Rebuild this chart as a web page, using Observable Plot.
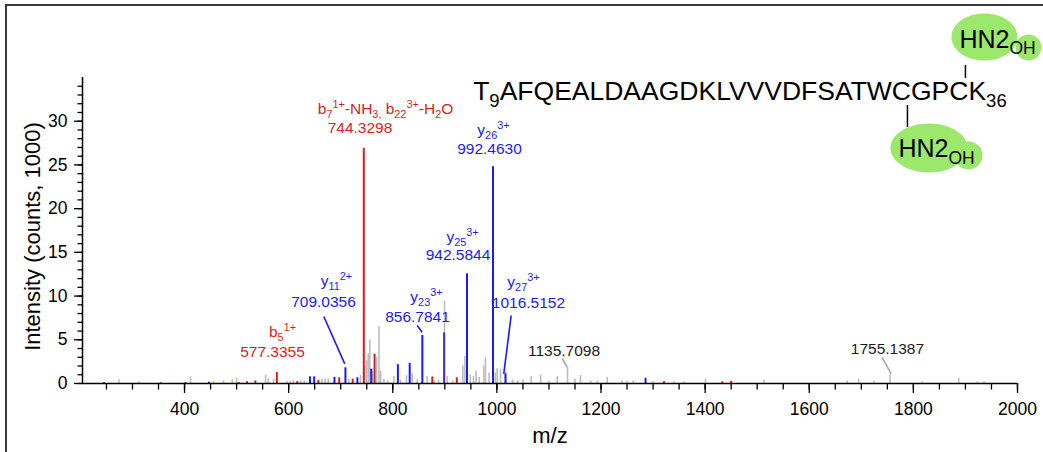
<!DOCTYPE html>
<html><head><meta charset="utf-8">
<script src="https://cdn.jsdelivr.net/npm/d3@7"></script>
<script src="https://cdn.jsdelivr.net/npm/@observablehq/plot@0.6"></script>
<style>
html,body{margin:0;padding:0;background:#fff;overflow:hidden}
#wrap{position:relative;width:1043px;height:452px;overflow:hidden}
#frame{position:absolute;left:5px;top:4px;width:1100px;height:500px;border:2px solid #3a3a3a;pointer-events:none}
</style></head><body><div id="wrap"><div id="chart"></div><div id="frame"></div></div>
<script>
// ---- peak data (m/z, intensity in counts x1000) ----
const grayMz  = [274,312,411.5,456,475,491.6,500,555.6,561,571,597,603,609,623,630,664,670,676,715.6,738,746,749.6,752.8,756,761,768.8,773.4,776.6,783,790,802,815,826.4,837.4,847,866,880,888,899.4,904.6,915,934.6,938.5,949,955,960,966,975,978,985,997,1000.6,1007,1016.6,1030,1040,1050,1066,1084,1100,1116,1135.7,1150,1160.6,1180,1193,1212,1240,1250,1262,1300,1340,1360,1400.8,1512.8,1673,1695,1724,1755.1,1817,1887,1923,1936];
const grayInt = [0.42,0.2,0.76,0.2,0.3,0.4,0.6,0.95,0.6,0.5,0.25,0.25,0.3,0.3,0.3,0.5,0.5,0.5,0.5,0.9,2.0,2.6,3.4,5.0,1.4,3.0,6.5,1.4,0.5,0.3,0.8,0.4,0.9,1.1,0.4,0.8,0.3,0.4,9.4,0.8,0.3,2.0,3.1,1.0,0.8,1.4,0.7,2.0,2.9,1.2,1.2,1.7,1.6,1.3,0.4,0.3,0.4,0.8,0.95,0.3,0.8,1.8,0.5,0.9,0.3,0.3,0.7,0.3,0.3,0.3,0.2,0.2,0.2,0.5,0.4,0.3,0.5,0.3,1.0,0.2,0.6,0.2,0.2];
const redMz   = [354,520,536,577.34,616.5,657,697,723,744.33,765,876,923,1321,1433,1450];
const redInt  = [0.1,0.2,0.3,1.25,0.2,0.35,0.65,0.5,26.9,3.35,0.75,0.65,0.2,0.2,0.25];
const blueMz  = [245,402,447,504,641,649,688,709.04,732,758.6,809.8,832.5,856.78,942.58,992.46,1016.52,1285.5];
const blueInt = [0.1,0.1,0.15,0.1,0.76,0.76,0.7,1.8,0.65,1.65,2.15,2.3,5.5,12.55,24.8,1.1,0.6];
const mixMz   = [898.6];
const mixInt  = [5.8];

// ---- annotation texts ----
const labelIon  = ["b_{5}^{1+}", "y_{11}^{2+}", "b_{7}^{1+}-NH_{3,} b_{22}^{3+}-H_{2}O", "y_{23}^{3+}", "y_{25}^{3+}", "y_{26}^{3+}", "y_{27}^{3+}", "", ""];
const labelMass = ["577.3355","709.0356","744.3298","856.7841","942.5844","992.4630","1016.5152","1135.7098","1755.1387"];
const labelKind = ["b","y","b","y","y","y","y","other","other"];
const peptide   = "T_{9}AFQEALDAAGDKLVVVDFSATWCGPCK_{36}";
const glycanTxt = "HN2_{OH}";

// x / y tick values
const xMajor = d3.range(400, 2001, 200);
const xMinor = d3.range(250, 2001, 50);
const yMajor = d3.range(0, 31, 5);
const yMinor = d3.range(0, 35, 1);

// ---- annotation placement (data units) ----
const labelLayout = [
  {ion:[588.2,5.3],   mass:[569.0,3.0]},
  {ion:[691.9,11.15], mass:[666.9,8.73],  lead:[667.5,7.66,707.8,2.25]},
  {ion:[786.0,30.8],  mass:[737.0,28.6]},
  {ion:[864.7,9.3],   mass:[847.5,7.01],  lead:[846.9,6.63,856.5,5.87]},
  {ion:[933.9,16.2],  mass:[925.3,14.07]},
  {ion:[993.4,28.4],  mass:[985.8,26.3]},
  {ion:[1051,11.0],   mass:[1060.6,8.69], lead:[1027.4,7.78,1013.2,1.11]},
  {mass:[1128.9,3.2], lead:[1125.4,2.86,1135,1.86]},
  {mass:[1750.2,3.43], lead:[1740,3.0,1757.3,1.1]}
];
const seqAnchor = [954.4, 32.37];
const glycans = [
  {text:[1888.5,38.43], body:[1936.5,39.63,33,23.5], bump:[2021.0,38.43,13], link:[1900.0,34.88,36.37]},
  {text:[1771.3,25.85], body:[1829.9,26.94,38.5,24.5], bump:[1905.8,26.08,14], link:[1788.6,29.28,31.80]}
];

const colors = {b:"#d81f1f", y:"#1c1cf2", other:"#1a1a1a", mix:"#4a2bbf", gray:"#bdbdbd", green:"#9be86c"};
const font = "'Liberation Sans', Arial, Helvetica, sans-serif";

const peaks = (mz, it) => mz.map((m, i) => ({mz: m, intensity: it[i]}));
const idx = d3.range(labelMass.length);
const ionIdx = idx.filter(i => labelIon[i]);
const leadIdx = idx.filter(i => labelLayout[i].lead);

// ellipse symbol for the glycan blobs
const ellipseSymbol = (rx, ry) => ({
  draw(ctx) {
    const k = 0.5523;
    ctx.moveTo(rx, 0);
    ctx.bezierCurveTo(rx, ry * k, rx * k, ry, 0, ry);
    ctx.bezierCurveTo(-rx * k, ry, -rx, ry * k, -rx, 0);
    ctx.bezierCurveTo(-rx, -ry * k, -rx * k, -ry, 0, -ry);
    ctx.bezierCurveTo(rx * k, -ry, rx, -ry * k, rx, 0);
    ctx.closePath();
  }
});
const blobMarks = glycans.flatMap(g => [
  Plot.dot([g], {x: d => d.body[0], y: d => d.body[1], symbol: ellipseSymbol(g.body[2], g.body[3]), r: 10, fill: colors.green, stroke: null}),
  Plot.dot([g], {x: d => d.bump[0], y: d => d.bump[1], r: g.bump[2], fill: colors.green, stroke: null})
]);

function textMarks(kind) {
  const ions = ionIdx.filter(i => labelKind[i] === kind);
  const masses = idx.filter(i => labelKind[i] === kind);
  return [
    Plot.text(ions, {x: i => labelLayout[i].ion[0], y: i => labelLayout[i].ion[1], text: i => labelIon[i],
      fill: colors[kind], fontSize: 15.5, textAnchor: "middle", lineAnchor: "bottom"}),
    Plot.text(masses, {x: i => labelLayout[i].mass[0], y: i => labelLayout[i].mass[1], text: i => labelMass[i],
      fill: colors[kind], fontSize: 15.5, textAnchor: "middle", lineAnchor: "bottom"})
  ];
}

const chart = Plot.plot({
  width: 1043, height: 452,
  marginLeft: 82, marginRight: 26, marginTop: 77, marginBottom: 69,
  x: {domain: [204, 2000]},
  y: {domain: [0, 35]},
  style: {fontFamily: font, background: "transparent", overflow: "visible", color: "#000"},
  marks: [
    Plot.axisX({ticks: xMinor, tickSize: 6.5, tickFormat: () => "", label: null, strokeWidth: 1.3}),
    Plot.axisX({ticks: xMajor, tickSize: 10, tickPadding: 9, fontSize: 17.5, label: null, strokeWidth: 1.3, tickFormat: d => String(d)}),
    Plot.axisY({ticks: yMinor, tickSize: 4.5, tickFormat: () => "", label: null, strokeWidth: 1.3}),
    Plot.axisY({ticks: yMajor, tickSize: 8, tickPadding: 7, fontSize: 17.5, label: null, strokeWidth: 1.3}),
    Plot.ruleX(peaks(grayMz, grayInt), {x: "mz", y1: 0, y2: "intensity", stroke: colors.gray, strokeWidth: 1.6}),
    Plot.ruleX(peaks(redMz, redInt), {x: "mz", y1: 0, y2: "intensity", stroke: colors.b, strokeWidth: 2}),
    Plot.ruleX(peaks(blueMz, blueInt), {x: "mz", y1: 0, y2: "intensity", stroke: colors.y, strokeWidth: 2}),
    Plot.ruleX(peaks(mixMz, mixInt), {x: "mz", y1: 0, y2: "intensity", stroke: colors.mix, strokeWidth: 2}),
    Plot.ruleY([0], {stroke: "#000", strokeWidth: 1.5}),
    Plot.ruleX([204], {stroke: "#000", strokeWidth: 1.5}),
    Plot.link(leadIdx, {x1: i => labelLayout[i].lead[0], y1: i => labelLayout[i].lead[1], x2: i => labelLayout[i].lead[2], y2: i => labelLayout[i].lead[3],
      stroke: i => labelKind[i] === "y" ? colors.y : "#a8a8a8", strokeWidth: 1.6}),
    ...textMarks("b"), ...textMarks("y"), ...textMarks("other"),
    // peptide + glycans
    ...blobMarks,
    Plot.ruleX(glycans, {x: g => g.link[0], y1: g => g.link[1], y2: g => g.link[2], stroke: "#000", strokeWidth: 1.5}),
    Plot.text([peptide], {x: () => seqAnchor[0], y: () => seqAnchor[1], text: d => d, fontSize: 26.5, textAnchor: "start", lineAnchor: "bottom", fill: "#000"}),
    Plot.text(glycans, {x: g => g.text[0], y: g => g.text[1], text: () => glycanTxt, fontSize: 25, textAnchor: "start", lineAnchor: "bottom", fill: "#000"}),
    // axis titles
    Plot.text(["m/z"], {frameAnchor: "bottom", dy: 59, fontSize: 22, textAnchor: "middle", lineAnchor: "bottom", fill: "#000"}),
    Plot.text(["Intensity (counts, 1000)"], {frameAnchor: "left", dx: -50, dy: 6, rotate: -90, fontSize: 22, textAnchor: "middle", lineAnchor: "middle", fill: "#000"})
  ]
});
document.getElementById("chart").appendChild(chart);

// render _{sub} and ^{sup} markup as tspans
(function applyMarkup(svg) {
  svg.querySelectorAll("text").forEach(t => {
    const s = t.textContent;
    if (!/[_^]\{/.test(s)) return;
    const fs = parseFloat(getComputedStyle(t).fontSize) || 15;
    const small = fs * 0.7, sub = fs * 0.25, sup = -fs * 0.4;
    while (t.firstChild) t.removeChild(t.firstChild);
    const re = /([_^])\{([^}]*)\}|([^_^]+)/g;
    let cur = 0, m;
    while ((m = re.exec(s))) {
      const ts = document.createElementNS("http://www.w3.org/2000/svg", "tspan");
      let target = 0, content = m[3];
      if (m[1]) { target = m[1] === "_" ? sub : sup; content = m[2]; ts.setAttribute("font-size", small); }
      if (target !== cur) { ts.setAttribute("dy", target - cur); cur = target; }
      ts.textContent = content;
      t.appendChild(ts);
    }
  });
})(chart);
</script></body></html>
